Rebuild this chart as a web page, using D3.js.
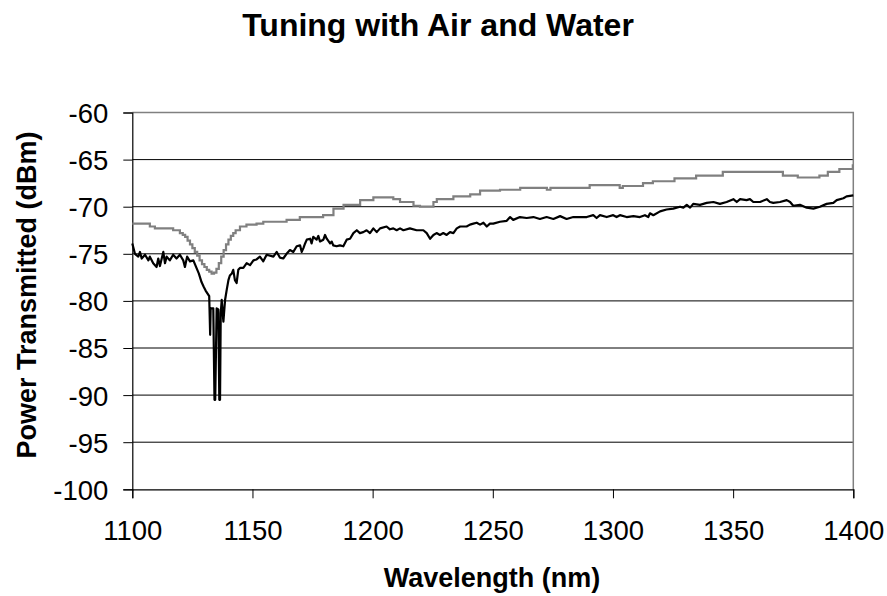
<!DOCTYPE html>
<html>
<head>
<meta charset="utf-8">
<script src="https://cdn.jsdelivr.net/npm/d3@7"></script>
<style>
  body { margin: 0; background: #fff; }
  text { font-family: Arial, "Liberation Sans", sans-serif; fill: #000; }
</style>
</head>
<body>
<div id="chart"></div>
<script>
// tick values
var xTicks = [1100, 1150, 1200, 1250, 1300, 1350, 1400];
var yTicks = [-60, -65, -70, -75, -80, -85, -90, -95, -100];

// gray trace (stepped)
var grayWl = [1100, 1107.3, 1109.4, 1117, 1119.8, 1121, 1122, 1123, 1124, 1125, 1126, 1127, 1128,
  1129, 1130, 1131, 1132, 1133, 1134, 1135, 1136, 1137, 1138, 1139, 1140, 1141, 1142, 1143,
  1144.8, 1147.5, 1151.7, 1154.5, 1164.2, 1169.7, 1179.4, 1183.7, 1187.9, 1194.8,
  1200.3, 1208.6, 1211.4, 1217, 1219.7, 1225.3, 1226.7, 1229.5, 1233.6, 1240.6, 1244.7, 1253,
  1261.4, 1272.5, 1274, 1286.1, 1290.3, 1302.8, 1304.1, 1311.8, 1312.5, 1316.6, 1325.6, 1334.6,
  1345.7, 1369.3, 1370.7, 1376.9, 1385.9, 1389.4, 1394.2, 1399.8, 1400];
var grayDb = [-71.8, -72.1, -72.3, -72.5, -72.8, -73.0, -73.2, -73.6, -74.0, -74.4, -74.8, -75.2, -75.7,
  -76.1, -76.4, -76.7, -76.9, -77.1, -77.0, -76.6, -76.0, -75.3, -74.6, -74.0, -73.5, -73.1, -72.8, -72.5,
  -72.1, -71.9, -71.8, -71.6, -71.4, -71.1, -70.9, -70.2, -69.8, -69.3,
  -69.0, -69.2, -69.5, -69.9, -70.0, -69.5, -69.2, -69.2, -68.9, -68.7, -68.3, -68.2,
  -68.0, -68.2, -68.0, -68.0, -67.7, -68.0, -67.8, -67.8, -67.5, -67.3, -67.0, -66.7,
  -66.3, -66.3, -66.7, -66.9, -66.7, -66.3, -66.0, -65.6, -65.6];

// black trace
var blackWl = [1100, 1101.1, 1102.5, 1103.2, 1103.9, 1105.3, 1106.7, 1107.3, 1108.7, 1110.1, 1110.8,
  1111.5, 1112.9, 1113.6, 1114.3, 1115.6, 1117, 1118.4, 1119.8, 1121.2, 1121.9, 1122.8, 1124,
  1125.4, 1126.7, 1127.7, 1128.8, 1129.7, 1130.5, 1132, 1132.4, 1132.6, 1132.8, 1133.7, 1134.2,
  1134.5, 1135.1, 1135.8, 1136.2, 1136.5, 1136.8, 1137.2, 1137.9, 1138.6, 1139.3, 1140, 1140.6,
  1141.4, 1142, 1142.7, 1143.4, 1144.1, 1144.8, 1146.2, 1147.6, 1149, 1150.4, 1151.7, 1153.1,
  1154.5, 1155.9, 1158.7, 1160.1, 1161.4, 1162.8, 1164.2, 1165.6, 1167, 1168.4, 1169.8, 1170.5,
  1171.2, 1171.9, 1172.6, 1174, 1174.6, 1175.3, 1176.7, 1177.4, 1178.1, 1179.5, 1180.2, 1180.9,
  1182.3, 1183, 1183.6, 1185, 1186.4, 1187.8, 1189.2, 1190.6, 1192, 1193.4, 1194.7, 1196.1,
  1197.5, 1198.9, 1200.3, 1201.7, 1203.1, 1205.8, 1207.2, 1208.6, 1210, 1211.4, 1212.8, 1215.5,
  1218.3, 1221.1, 1222.5, 1223.9, 1225.3, 1226.6, 1228, 1229.4, 1230.8, 1232.2, 1233.6, 1235,
  1236.4, 1239.1, 1240.5, 1241.9, 1243.3, 1244.7, 1246.1, 1247.5, 1248.8, 1250.2, 1253, 1255.8,
  1257.2, 1258.5, 1261.3, 1264.1, 1266.9, 1269.6, 1272.4, 1275.2, 1278, 1280.7, 1283.5, 1286.3,
  1289.1, 1291.8, 1293.2, 1294.6, 1297.4, 1300.1, 1301.5, 1302.9, 1305.7, 1308.5, 1311.2, 1313.3,
  1314.7, 1315.4, 1316.8, 1319.6, 1322.3, 1325.1, 1327.9, 1329.3, 1330.7, 1332.1, 1333.4, 1336.2,
  1339, 1341.8, 1344.5, 1347.3, 1350.1, 1351.5, 1352.9, 1355.6, 1357, 1358.4, 1361.2, 1364,
  1365.3, 1366.7, 1369.5, 1372.3, 1373.7, 1375, 1377.8, 1380.6, 1383.4, 1386.1, 1388.9, 1391.7,
  1393.1, 1395.9, 1397.2, 1400];
var blackDb = [-73.9, -75.0, -75.3, -74.8, -75.5, -75.1, -75.7, -75.3, -76.0, -76.4, -75.5,
  -76.3, -74.8, -76.0, -75.3, -75.7, -75.1, -75.5, -75.1, -75.7, -76.4, -75.3, -75.8,
  -75.7, -76.5, -77.1, -78.0, -78.5, -78.9, -79.5, -83.6, -80.8, -80.8, -80.8, -90.5,
  -90.5, -80.8, -80.9, -90.5, -90.5, -81.3, -79.9, -82.2, -79.9, -78.8, -77.8, -77.3,
  -77.1, -76.7, -77.8, -78.1, -76.7, -76.5, -76.5, -76.0, -76.2, -75.7, -75.6, -75.3,
  -75.8, -75.1, -75.3, -74.8, -75.4, -75.5, -75.0, -74.6, -74.8, -74.2, -74.1, -74.8,
  -74.4, -73.9, -73.5, -73.4, -73.9, -73.2, -73.5, -73.1, -73.7, -73.5, -73.0, -73.4,
  -73.9, -73.7, -74.1, -74.2, -74.1, -74.2, -73.5, -73.4, -72.8, -72.5, -72.8, -72.7,
  -72.5, -72.8, -72.3, -72.7, -72.3, -72.1, -72.4, -72.3, -72.5, -72.3, -72.5, -72.3,
  -72.5, -72.5, -72.8, -73.4, -73.0, -72.8, -73.0, -72.8, -73.0, -72.7, -72.8, -72.3,
  -72.1, -72.1, -71.9, -71.8, -71.7, -71.9, -71.7, -72.1, -71.8, -71.8, -71.6, -71.5,
  -71.1, -71.4, -71.1, -71.2, -71.1, -71.3, -71.1, -71.3, -71.0, -71.3, -71.1, -71.1,
  -71.1, -70.9, -71.2, -70.9, -71.1, -70.9, -71.1, -70.9, -71.1, -71.0, -71.1, -70.9,
  -71.1, -70.7, -70.9, -70.5, -70.3, -70.2, -70.0, -70.1, -69.8, -70.1, -69.7, -69.8,
  -69.6, -69.5, -69.7, -69.5, -69.2, -69.5, -69.2, -69.3, -69.2, -69.5, -69.5, -69.2,
  -69.5, -69.6, -69.5, -69.3, -69.5, -69.9, -69.8, -70.1, -70.2, -70.0, -69.7, -69.6,
  -69.3, -69.1, -68.9, -68.8];

var width = 887, height = 596;
var margin = { top: 112.5, right: 887 - 853.3, bottom: 596 - 489.3, left: 132.3 };

var svg = d3.select("#chart")
    .append("svg")
    .attr("width", width)
    .attr("height", height);

var x = d3.scaleLinear().domain([1100, 1400]).range([margin.left, width - margin.right]);
var y = d3.scaleLinear().domain([-100, -60]).range([height - margin.bottom, margin.top]);

// gridlines
svg.append("g")
    .selectAll("line")
    .data(yTicks.filter(function (d) { return d > -100 && d < -60; }))
    .enter().append("line")
    .attr("x1", x(1100))
    .attr("x2", x(1400))
    .attr("y1", function (d) { return y(d); })
    .attr("y2", function (d) { return y(d); })
    .attr("stroke", "#000")
    .attr("stroke-width", 1);

// plot frame (top and right in gray)
svg.append("path")
    .attr("d", "M" + x(1100) + "," + y(-60) + "H" + x(1400) + "V" + y(-100))
    .attr("fill", "none")
    .attr("stroke", "#808080")
    .attr("stroke-width", 1.5);

// axes
var yAxis = svg.append("g")
    .attr("transform", "translate(" + margin.left + ",0)")
    .call(d3.axisLeft(y).tickValues(yTicks).tickSize(9).tickPadding(15).tickFormat(function (d) { return String(d); }));

var xAxis = svg.append("g")
    .attr("transform", "translate(0," + (height - margin.bottom) + ")")
    .call(d3.axisBottom(x).tickValues(xTicks).tickSize(9).tickPadding(22).tickFormat(function (d) { return String(d); }));

[yAxis, xAxis].forEach(function (a) {
    a.select(".domain").attr("stroke", "#000").attr("stroke-width", 1.2);
    a.selectAll(".tick line").attr("stroke", "#000").attr("stroke-width", 1);
    a.selectAll("text").style("font-size", "27.5px").attr("fill", "#000");
});
yAxis.selectAll("text").attr("dy", "0.36em");
xAxis.selectAll("text").attr("dy", "0.71em");

// series
var line = d3.line()
    .x(function (d) { return x(d[0]); })
    .y(function (d) { return y(d[1]); });

var gray = grayWl.map(function (w, i) { return [w, grayDb[i]]; });
var black = blackWl.map(function (w, i) { return [w, blackDb[i]]; });

svg.append("path")
    .attr("d", line.curve(d3.curveStepAfter)(gray))
    .attr("fill", "none")
    .attr("stroke", "#808080")
    .attr("stroke-width", 2.2);

svg.append("path")
    .attr("d", line.curve(d3.curveLinear)(black))
    .attr("fill", "none")
    .attr("stroke", "#000")
    .attr("stroke-width", 2.2)
    .attr("stroke-linejoin", "round");

// titles
svg.append("text")
    .attr("x", 438)
    .attr("y", 36)
    .attr("text-anchor", "middle")
    .style("font-size", "32px")
    .style("font-weight", "bold")
    .text("Tuning with Air and Water");

svg.append("text")
    .attr("x", 492)
    .attr("y", 587)
    .attr("text-anchor", "middle")
    .style("font-size", "27px")
    .style("font-weight", "bold")
    .text("Wavelength (nm)");

svg.append("text")
    .attr("transform", "translate(36,295) rotate(-90)")
    .attr("text-anchor", "middle")
    .style("font-size", "27px")
    .style("font-weight", "bold")
    .text("Power Transmitted (dBm)");
</script>
</body>
</html>
